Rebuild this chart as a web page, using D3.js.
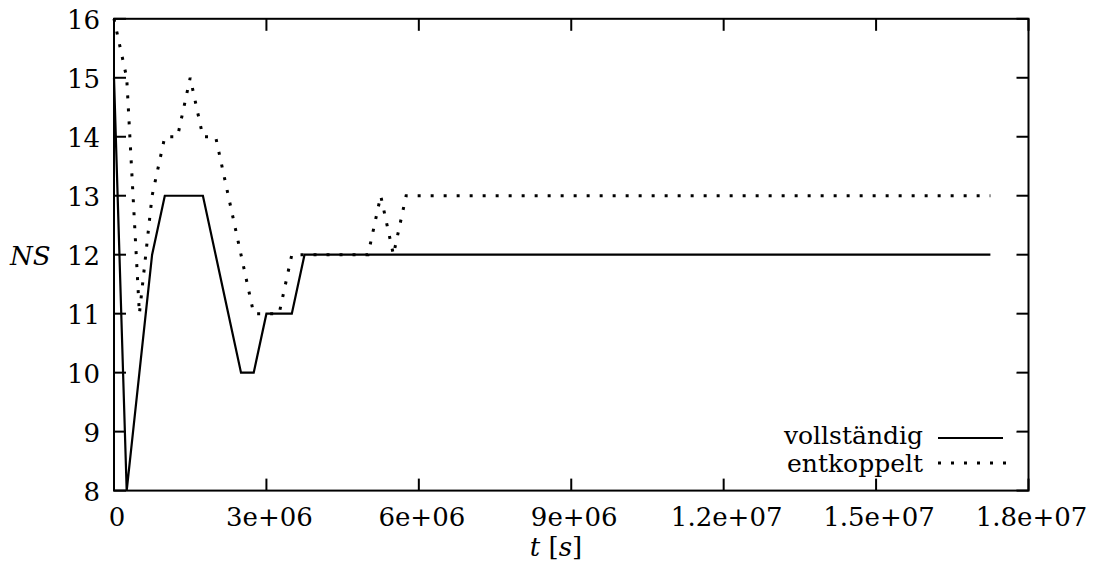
<!DOCTYPE html>
<html><head><meta charset="utf-8">
<script src="https://cdn.jsdelivr.net/npm/d3@7"></script>
<style>body{margin:0;background:#fff}svg{display:block}</style>
</head><body><svg id="c" width="1098" height="576"></svg>
<script>
// vollständig (solid): time in seconds, NS value
const tVoll = [0, 250000, 500000, 750000, 1000000, 1750000, 2000000, 2250000, 2500000, 2750000, 3000000, 3500000, 3750000, 17250000];
const nsVoll = [15, 8, 10, 12, 13, 13, 12, 11, 10, 10, 11, 11, 12, 12];
// entkoppelt (dotted)
const tEnt = [0, 250000, 500000, 750000, 1000000, 1250000, 1500000, 1750000, 2000000, 2250000, 2500000, 2750000, 3250000, 3500000, 5000000, 5250000, 5500000, 5750000, 17250000];
const nsEnt = [16, 15, 11, 13, 14, 14, 15, 14, 14, 13, 12, 11, 11, 12, 12, 13, 12, 13, 13];
const xTicks = [0, 3e6, 6e6, 9e6, 1.2e7, 1.5e7, 1.8e7];
const xTickLabels = ["0", "3e+06", "6e+06", "9e+06", "1.2e+07", "1.5e+07", "1.8e+07"];
const yTicks = [8, 9, 10, 11, 12, 13, 14, 15, 16];
const seriesNames = ["vollständig", "entkoppelt"];

const FONT = "'DejaVu Serif', 'Liberation Serif', serif";
const svg = d3.select("#c").attr("font-family", FONT);
const L = 114, R = 1028.5, T = 18.8, B = 490.6;
const x = d3.scaleLinear().domain([0, 1.8e7]).range([L, R]);
const y = d3.scaleLinear().domain([8, 16]).range([B, T]);
const FS = 26;

svg.append("rect").attr("x", L).attr("y", T).attr("width", R - L).attr("height", B - T)
  .attr("fill", "none").attr("stroke", "#000").attr("stroke-width", 2);

const tk = 12;
const gx = svg.append("g");
xTicks.forEach((v, i) => {
  const xx = x(v);
  gx.append("line").attr("x1", xx).attr("x2", xx).attr("y1", B).attr("y2", B - tk).attr("stroke", "#000").attr("stroke-width", 2);
  gx.append("line").attr("x1", xx).attr("x2", xx).attr("y1", T).attr("y2", T + tk).attr("stroke", "#000").attr("stroke-width", 2);
  gx.append("text").attr("x", xx + 3).attr("y", 526).attr("text-anchor", "middle").attr("font-family", FONT).attr("font-size", FS).text(xTickLabels[i]);
});
const gy = svg.append("g");
yTicks.forEach(v => {
  const yy = y(v);
  gy.append("line").attr("x1", L).attr("x2", L + tk).attr("y1", yy).attr("y2", yy).attr("stroke", "#000").attr("stroke-width", 2);
  gy.append("line").attr("x1", R).attr("x2", R - tk).attr("y1", yy).attr("y2", yy).attr("stroke", "#000").attr("stroke-width", 2);
  gy.append("text").attr("x", 100).attr("y", yy + 10).attr("text-anchor", "end").attr("font-family", FONT).attr("font-size", FS).text(String(v));
});

svg.append("text").attr("x", 10).attr("y", y(12) + 10).attr("font-family", FONT).attr("font-size", FS).attr("font-style", "italic").text("NS");
const xl = svg.append("text").attr("x", 556).attr("y", 556).attr("text-anchor", "middle").attr("font-family", FONT).attr("font-size", FS);
xl.append("tspan").attr("font-style", "italic").text("t");
xl.append("tspan").text(" [");
xl.append("tspan").attr("font-style", "italic").text("s");
xl.append("tspan").text("]");

const line = d3.line().x(d => x(d[0])).y(d => y(d[1]));
const dataVoll = tVoll.map((t, i) => [t, nsVoll[i]]);
const dataEnt = tEnt.map((t, i) => [t, nsEnt[i]]);

svg.append("path").datum(dataEnt).attr("d", line).attr("fill", "none").attr("stroke", "#000")
  .attr("stroke-width", 3).attr("stroke-dasharray", "3 10");
svg.append("path").datum(dataVoll).attr("d", line).attr("fill", "none").attr("stroke", "#000")
  .attr("stroke-width", 2.2).attr("stroke-linejoin", "miter");

const lg = svg.append("g");
lg.append("text").attr("x", 923).attr("y", 444).attr("text-anchor", "end").attr("font-family", FONT).attr("font-size", 25).text(seriesNames[0]);
lg.append("line").attr("x1", 938).attr("x2", 1003).attr("y1", 438).attr("y2", 438).attr("stroke", "#000").attr("stroke-width", 2.2);
lg.append("text").attr("x", 923).attr("y", 472).attr("text-anchor", "end").attr("font-family", FONT).attr("font-size", 25).text(seriesNames[1]);
lg.append("line").attr("x1", 938).attr("x2", 1008).attr("y1", 463).attr("y2", 463).attr("stroke", "#000").attr("stroke-width", 3).attr("stroke-dasharray", "3 10");
</script></body></html>
